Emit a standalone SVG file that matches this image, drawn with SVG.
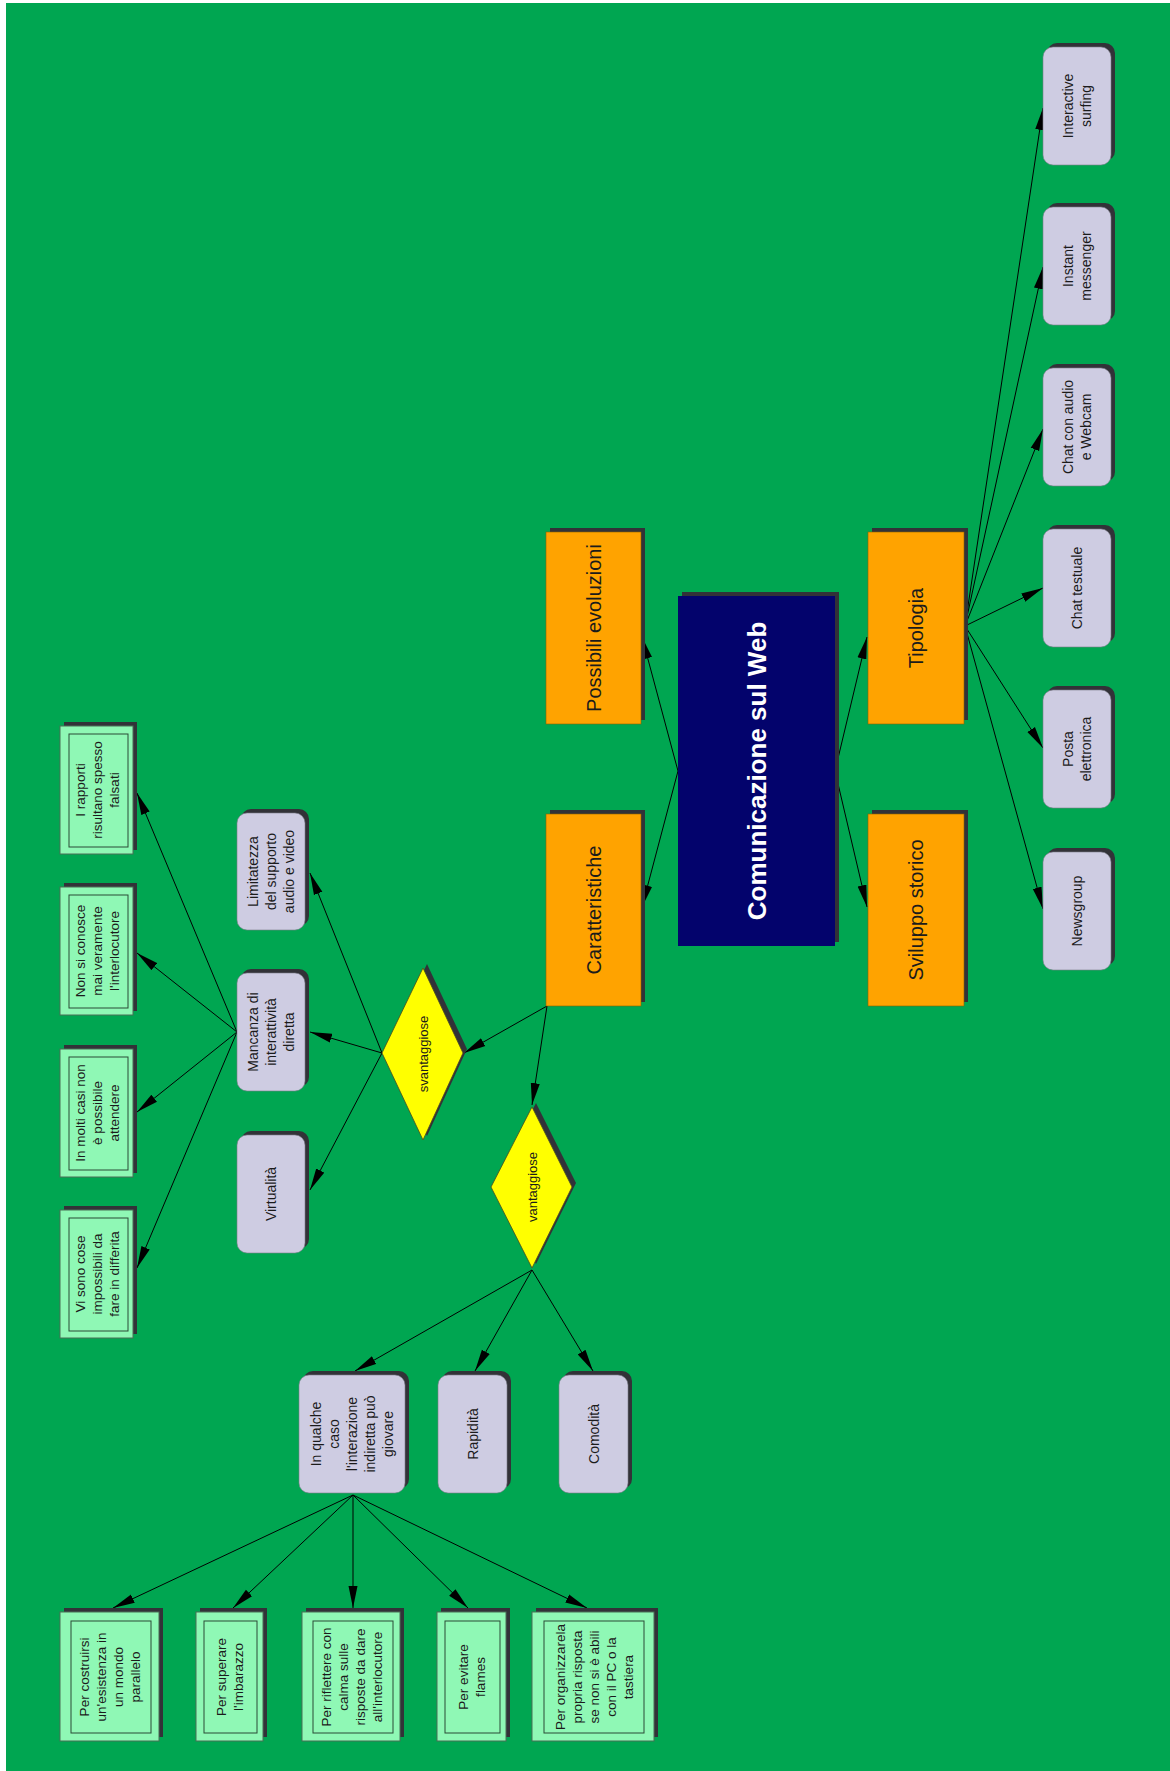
<svg xmlns="http://www.w3.org/2000/svg" width="1170" height="1771" viewBox="0 0 1170 1771">
<defs>
<marker id="arr" markerUnits="userSpaceOnUse" markerWidth="22" markerHeight="10" refX="22" refY="5" orient="auto">
<path d="M0,0.5 L22,5 L0,9.5 Z" fill="#000"/>
</marker>
<style>
.bg{fill:#00A651}
.sh{fill:#323238}
.or{fill:#FFA300;stroke:#8a6200;stroke-width:0.6}
.nv{fill:#03036C}
.gr{fill:#CECCE2;stroke:#7d7d8c;stroke-width:0.6}
.gn{fill:#8FF8B5;stroke:#4b6e57;stroke-width:1}
.gi{fill:none;stroke:#2b4a36;stroke-width:1}
.dm{fill:#FFFF00;stroke:#4a4a20;stroke-width:0.8}
.t{font-family:"Liberation Sans",Arial,sans-serif;fill:#1b1b1b;text-anchor:middle}
.s14{font-size:14px}
.s135{font-size:13.5px}
.s13{font-size:13px}
.s20{font-size:20px}
.main{font-size:26px;font-weight:bold;fill:#ffffff}
.cn line{stroke:#000;stroke-width:1;fill:none;marker-end:url(#arr)}
</style>
</defs>
<rect x="0" y="0" width="1170" height="1771" fill="#ffffff"/>
<rect class="bg" x="6" y="3" width="1164" height="1768"/>

<g id="connectors" class="cn">
<line x1="678" y1="771" x2="642" y2="637"/>
<line x1="678" y1="771" x2="642" y2="907"/>
<line x1="835" y1="771" x2="867" y2="637"/>
<line x1="835" y1="771" x2="867" y2="907"/>
<line x1="965" y1="626" x2="1043" y2="108"/>
<line x1="965" y1="626" x2="1043" y2="267"/>
<line x1="965" y1="626" x2="1043" y2="429"/>
<line x1="965" y1="626" x2="1043" y2="588"/>
<line x1="965" y1="626" x2="1043" y2="748"/>
<line x1="965" y1="626" x2="1043" y2="909"/>
<line x1="547" y1="1006" x2="464" y2="1053"/>
<line x1="547" y1="1006" x2="532" y2="1105"/>
<line x1="382" y1="1053" x2="310" y2="873"/>
<line x1="382" y1="1053" x2="310" y2="1032"/>
<line x1="382" y1="1053" x2="310" y2="1190"/>
<line x1="237" y1="1032" x2="137" y2="793"/>
<line x1="237" y1="1032" x2="137" y2="953"/>
<line x1="237" y1="1032" x2="137" y2="1112"/>
<line x1="237" y1="1032" x2="137" y2="1268"/>
<line x1="532" y1="1270" x2="355" y2="1371"/>
<line x1="532" y1="1270" x2="475" y2="1371"/>
<line x1="532" y1="1270" x2="593" y2="1371"/>
<line x1="353" y1="1495" x2="113" y2="1608"/>
<line x1="353" y1="1495" x2="233" y2="1608"/>
<line x1="353" y1="1495" x2="353" y2="1608"/>
<line x1="353" y1="1495" x2="468" y2="1608"/>
<line x1="353" y1="1495" x2="587" y2="1608"/>
</g>

<g id="n-main">
<rect class="sh" x="682" y="592" width="157" height="350"/>
<rect class="nv" x="678" y="596" width="157" height="350"/>
<text class="t main" transform="translate(756.5,771) rotate(-90)" x="0" y="9">Comunicazione sul Web</text>
</g>

<g id="n-possibili">
<rect class="sh" x="550" y="528" width="95" height="192"/>
<rect class="or" x="546" y="532" width="95" height="192"/>
<text class="t s20" transform="translate(593.5,628) rotate(-90)" x="0" y="7">Possibili evoluzioni</text>
</g>
<g id="n-caratteristiche">
<rect class="sh" x="550" y="810" width="95" height="192"/>
<rect class="or" x="546" y="814" width="95" height="192"/>
<text class="t s20" transform="translate(593.5,910) rotate(-90)" x="0" y="7">Caratteristiche</text>
</g>
<g id="n-tipologia">
<rect class="sh" x="872" y="528" width="96" height="192"/>
<rect class="or" x="868" y="532" width="96" height="192"/>
<text class="t s20" transform="translate(916,628) rotate(-90)" x="0" y="7">Tipologia</text>
</g>
<g id="n-sviluppo">
<rect class="sh" x="872" y="810" width="96" height="192"/>
<rect class="or" x="868" y="814" width="96" height="192"/>
<text class="t s20" transform="translate(916,910) rotate(-90)" x="0" y="7">Sviluppo storico</text>
</g>

<g id="n-interactive">
<rect class="sh" x="1047" y="43" width="68" height="118" rx="10"/>
<rect class="gr" x="1043" y="47" width="68" height="118" rx="10"/>
<text class="t s14" transform="translate(1077,106) rotate(-90)"><tspan x="0" y="-4">Interactive</tspan><tspan x="0" y="14">surfing</tspan></text>
</g>
<g id="n-instant">
<rect class="sh" x="1047" y="203" width="68" height="118" rx="10"/>
<rect class="gr" x="1043" y="207" width="68" height="118" rx="10"/>
<text class="t s14" transform="translate(1077,266) rotate(-90)"><tspan x="0" y="-4">Instant</tspan><tspan x="0" y="14">messenger</tspan></text>
</g>
<g id="n-chataudio">
<rect class="sh" x="1047" y="364" width="68" height="118" rx="10"/>
<rect class="gr" x="1043" y="368" width="68" height="118" rx="10"/>
<text class="t s14" transform="translate(1077,427) rotate(-90)"><tspan x="0" y="-4">Chat con audio</tspan><tspan x="0" y="14">e Webcam</tspan></text>
</g>
<g id="n-chattestuale">
<rect class="sh" x="1047" y="525" width="68" height="118" rx="10"/>
<rect class="gr" x="1043" y="529" width="68" height="118" rx="10"/>
<text class="t s14" transform="translate(1077,588) rotate(-90)" x="0" y="5">Chat testuale</text>
</g>
<g id="n-posta">
<rect class="sh" x="1047" y="686" width="68" height="118" rx="10"/>
<rect class="gr" x="1043" y="690" width="68" height="118" rx="10"/>
<text class="t s14" transform="translate(1077,749) rotate(-90)"><tspan x="0" y="-4">Posta</tspan><tspan x="0" y="14">elettronica</tspan></text>
</g>
<g id="n-newsgroup">
<rect class="sh" x="1047" y="848" width="68" height="118" rx="10"/>
<rect class="gr" x="1043" y="852" width="68" height="118" rx="10"/>
<text class="t s14" transform="translate(1077,911) rotate(-90)" x="0" y="5">Newsgroup</text>
</g>

<g id="n-svantaggiose">
<polygon class="sh" points="427,964 467,1049 427,1136 386,1049"/>
<polygon class="dm" points="423,968 463,1053 423,1140 382,1053"/>
<text class="t s13" transform="translate(423,1054) rotate(-90)" x="0" y="4.5">svantaggiose</text>
</g>
<g id="n-vantaggiose">
<polygon class="sh" points="536,1103 576,1183 536,1264 495,1183"/>
<polygon class="dm" points="532,1107 572,1187 532,1268 491,1187"/>
<text class="t s13" transform="translate(532,1187) rotate(-90)" x="0" y="4.5">vantaggiose</text>
</g>

<g id="n-limitatezza">
<rect class="sh" x="241" y="809" width="68" height="117" rx="10"/>
<rect class="gr" x="237" y="813" width="68" height="117" rx="10"/>
<text class="t s14" transform="translate(271,871.5) rotate(-90)"><tspan x="0" y="-13">Limitatezza</tspan><tspan x="0" y="5">del supporto</tspan><tspan x="0" y="23">audio e video</tspan></text>
</g>
<g id="n-mancanza">
<rect class="sh" x="241" y="969" width="68" height="118" rx="10"/>
<rect class="gr" x="237" y="973" width="68" height="118" rx="10"/>
<text class="t s14" transform="translate(271,1032) rotate(-90)"><tspan x="0" y="-13">Mancanza di</tspan><tspan x="0" y="5">interattività</tspan><tspan x="0" y="23">diretta</tspan></text>
</g>
<g id="n-virtualita">
<rect class="sh" x="241" y="1131" width="68" height="118" rx="10"/>
<rect class="gr" x="237" y="1135" width="68" height="118" rx="10"/>
<text class="t s14" transform="translate(271,1194) rotate(-90)" x="0" y="5">Virtualità</text>
</g>
<g id="n-inqualche">
<rect class="sh" x="303" y="1371" width="106" height="118" rx="10"/>
<rect class="gr" x="299" y="1375" width="106" height="118" rx="10"/>
<text class="t s14" transform="translate(352,1434) rotate(-90)"><tspan x="0" y="-31">In qualche</tspan><tspan x="0" y="-13">caso</tspan><tspan x="0" y="5">l'interazione</tspan><tspan x="0" y="23">indiretta può</tspan><tspan x="0" y="41">giovare</tspan></text>
</g>
<g id="n-rapidita">
<rect class="sh" x="442" y="1371" width="69" height="118" rx="10"/>
<rect class="gr" x="438" y="1375" width="69" height="118" rx="10"/>
<text class="t s14" transform="translate(472.5,1434) rotate(-90)" x="0" y="5">Rapidità</text>
</g>
<g id="n-comodita">
<rect class="sh" x="563" y="1371" width="69" height="118" rx="10"/>
<rect class="gr" x="559" y="1375" width="69" height="118" rx="10"/>
<text class="t s14" transform="translate(593.5,1434) rotate(-90)" x="0" y="5">Comodità</text>
</g>

<g id="n-rapporti">
<rect class="sh" x="64" y="722" width="73" height="128"/>
<rect class="gn" x="60" y="726" width="73" height="128"/>
<rect class="gi" x="69" y="734" width="59" height="113"/>
<text class="t s135" transform="translate(97,790) rotate(-90)"><tspan x="0" y="-12.3">I rapporti</tspan><tspan x="0" y="4.7">risultano spesso</tspan><tspan x="0" y="21.7">falsati</tspan></text>
</g>
<g id="n-nonsiconosce">
<rect class="sh" x="64" y="883" width="73" height="128"/>
<rect class="gn" x="60" y="887" width="73" height="128"/>
<rect class="gi" x="69" y="895" width="59" height="113"/>
<text class="t s135" transform="translate(97,951) rotate(-90)"><tspan x="0" y="-12.3">Non si conosce</tspan><tspan x="0" y="4.7">mai veramente</tspan><tspan x="0" y="21.7">l'interlocutore</tspan></text>
</g>
<g id="n-inmolticasi">
<rect class="sh" x="64" y="1045" width="73" height="128"/>
<rect class="gn" x="60" y="1049" width="73" height="128"/>
<rect class="gi" x="69" y="1057" width="59" height="113"/>
<text class="t s135" transform="translate(97,1113) rotate(-90)"><tspan x="0" y="-12.3">In molti casi non</tspan><tspan x="0" y="4.7">è possibile</tspan><tspan x="0" y="21.7">attendere</tspan></text>
</g>
<g id="n-visono">
<rect class="sh" x="64" y="1206" width="73" height="128"/>
<rect class="gn" x="60" y="1210" width="73" height="128"/>
<rect class="gi" x="69" y="1218" width="59" height="113"/>
<text class="t s135" transform="translate(97,1274) rotate(-90)"><tspan x="0" y="-12.3">Vi sono cose</tspan><tspan x="0" y="4.7">impossibili da</tspan><tspan x="0" y="21.7">fare in differita</tspan></text>
</g>

<g id="n-costruirsi">
<rect class="sh" x="64" y="1608" width="99" height="129"/>
<rect class="gn" x="60" y="1612" width="99" height="129"/>
<rect class="gi" x="71" y="1621" width="80" height="112"/>
<text class="t s135" transform="translate(110,1677) rotate(-90)"><tspan x="0" y="-20.8">Per costruirsi</tspan><tspan x="0" y="-3.8">un'esistenza in</tspan><tspan x="0" y="13.2">un mondo</tspan><tspan x="0" y="30.2">parallelo</tspan></text>
</g>
<g id="n-superare">
<rect class="sh" x="200" y="1608" width="67" height="129"/>
<rect class="gn" x="196" y="1612" width="67" height="129"/>
<rect class="gi" x="204" y="1621" width="53" height="112"/>
<text class="t s135" transform="translate(230,1677) rotate(-90)"><tspan x="0" y="-3.8">Per superare</tspan><tspan x="0" y="13.2">l'imbarazzo</tspan></text>
</g>
<g id="n-riflettere">
<rect class="sh" x="306" y="1608" width="98" height="129"/>
<rect class="gn" x="302" y="1612" width="98" height="129"/>
<rect class="gi" x="313" y="1621" width="80" height="112"/>
<text class="t s135" transform="translate(352,1677) rotate(-90)"><tspan x="0" y="-20.8">Per riflettere con</tspan><tspan x="0" y="-3.8">calma sulle</tspan><tspan x="0" y="13.2">risposte da dare</tspan><tspan x="0" y="30.2">all'interlocutore</tspan></text>
</g>
<g id="n-evitare">
<rect class="sh" x="441" y="1608" width="69" height="129"/>
<rect class="gn" x="437" y="1612" width="69" height="129"/>
<rect class="gi" x="445" y="1621" width="55" height="112"/>
<text class="t s135" transform="translate(472,1677) rotate(-90)"><tspan x="0" y="-3.8">Per evitare</tspan><tspan x="0" y="13.2">flames</tspan></text>
</g>
<g id="n-organizzarla">
<rect class="sh" x="536" y="1608" width="122" height="129"/>
<rect class="gn" x="532" y="1612" width="122" height="129"/>
<rect class="gi" x="544" y="1621" width="100" height="112"/>
<text class="t s135" transform="translate(594,1677) rotate(-90)"><tspan x="0" y="-29.3">Per organizzarela</tspan><tspan x="0" y="-12.3">propria risposta</tspan><tspan x="0" y="4.7">se non si è abili</tspan><tspan x="0" y="21.7">con il PC o la</tspan><tspan x="0" y="38.7">tastiera</tspan></text>
</g>
</svg>
